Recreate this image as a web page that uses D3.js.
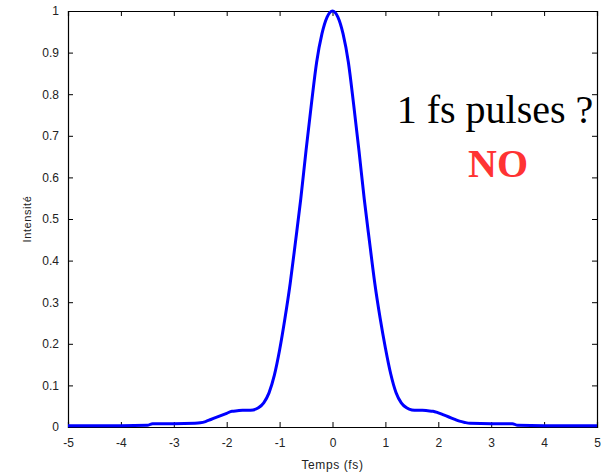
<!DOCTYPE html>
<html>
<head>
<meta charset="utf-8">
<script src="https://cdn.jsdelivr.net/npm/d3@7"></script>
<style>
  html, body { margin: 0; padding: 0; background: #fff; }
  svg { display: block; }
  .tick text { font-family: "Liberation Sans", Arial, sans-serif; font-size: 12px; fill: #222; }
</style>
</head>
<body>
<svg id="chart" width="609" height="472"></svg>
<script>
// Pulse intensity profile (time in fs, normalised intensity)
const times = [
  -5, -4, -3.5, -3.4, -3, -2.6, -2.5, -2.4, -2.3, -2.2, -2.1, -2.0,
  -1.9, -1.8, -1.7, -1.6, -1.5, -1.4, -1.3, -1.2, -1.1, -1.0,
  -0.9, -0.8, -0.7, -0.6, -0.5, -0.4, -0.3, -0.2, -0.1, 0,
  0.1, 0.2, 0.3, 0.4, 0.5, 0.6, 0.7, 0.8, 0.9, 1.0,
  1.1, 1.2, 1.3, 1.4, 1.5, 1.6, 1.7, 1.8, 1.9, 2.0,
  2.1, 2.2, 2.3, 2.4, 2.5, 2.6, 3, 3.4, 3.5, 4, 5
];
const intensity = [
  0.003, 0.003, 0.004, 0.008, 0.008, 0.009, 0.010, 0.013, 0.018, 0.023, 0.028, 0.033,
  0.038, 0.039, 0.040, 0.040, 0.041, 0.046, 0.058, 0.082, 0.124, 0.185,
  0.260, 0.345, 0.445, 0.548, 0.665, 0.775, 0.877, 0.945, 0.986, 1.000,
  0.986, 0.945, 0.877, 0.775, 0.665, 0.548, 0.445, 0.345, 0.262, 0.190,
  0.128, 0.083, 0.058, 0.046, 0.041, 0.040, 0.040, 0.039, 0.038, 0.034,
  0.029, 0.024, 0.019, 0.014, 0.011, 0.009, 0.008, 0.008, 0.004, 0.003, 0.003
];
const xTicks = [-5, -4, -3, -2, -1, 0, 1, 2, 3, 4, 5];
const yTicks = [0, 0.1, 0.2, 0.3, 0.4, 0.5, 0.6, 0.7, 0.8, 0.9, 1];

const svg = d3.select("#chart");
const margin = { left: 68, right: 12, top: 11, bottom: 45 };
const W = 609, H = 472;
const x = d3.scaleLinear().domain([-5, 5]).range([margin.left, W - margin.right]);
const y = d3.scaleLinear().domain([0, 1]).range([H - margin.bottom, margin.top]);

const tickLen = 5;
// plain hyphen for negative numbers
const fmtX = d => String(d);
const fmtY = d => String(d);

// Bottom and left axes with inward ticks
const gx = svg.append("g").attr("transform", `translate(0,${y(0)})`)
  .call(d3.axisBottom(x).tickValues(xTicks).tickSize(-tickLen).tickPadding(tickLen + 6).tickFormat(fmtX));
const gy = svg.append("g").attr("transform", `translate(${x(-5)},0)`)
  .call(d3.axisLeft(y).tickValues(yTicks).tickSize(-tickLen).tickPadding(tickLen + 4).tickFormat(fmtY));
// Top and right axes (box), ticks only
const gt = svg.append("g").attr("transform", `translate(0,${y(1)})`)
  .call(d3.axisTop(x).tickValues(xTicks).tickSize(-tickLen).tickFormat(""));
const gr = svg.append("g").attr("transform", `translate(${x(5)},0)`)
  .call(d3.axisRight(y).tickValues(yTicks).tickSize(-tickLen).tickFormat(""));

[gx, gy, gt, gr].forEach(g => {
  g.selectAll(".domain").attr("stroke", "#000").attr("stroke-width", 1.2);
  g.selectAll(".tick line").attr("stroke", "#000").attr("stroke-width", 1);
});

// Intensity curve
const pts = times.map((t, i) => [t, intensity[i]]);
svg.append("path")
  .datum(pts)
  .attr("fill", "none")
  .attr("stroke", "#0000ff")
  .attr("stroke-width", 3)
  .attr("stroke-linejoin", "round")
  .attr("d", d3.line().x(d => x(d[0])).y(d => y(d[1])).curve(d3.curveMonotoneX));

// Axis titles
svg.append("text")
  .attr("x", x(0)).attr("y", 469)
  .attr("text-anchor", "middle")
  .style("font-family", "'Liberation Sans', Arial, sans-serif")
  .style("font-size", "12px").style("letter-spacing", "0.6px").attr("fill", "#222")
  .text("Temps (fs)");
svg.append("text")
  .attr("transform", `translate(31,${y(0.5)}) rotate(-90)`)
  .attr("text-anchor", "middle")
  .style("font-family", "'Liberation Sans', Arial, sans-serif")
  .style("font-size", "11px").style("letter-spacing", "0.6px").attr("fill", "#222")
  .text("Intensité");

// Annotation
svg.append("text")
  .attr("x", 495).attr("y", 123)
  .attr("text-anchor", "middle")
  .style("font-family", "'Liberation Serif', 'Times New Roman', serif")
  .style("font-size", "40px").attr("fill", "#000")
  .text("1 fs pulses ?");
svg.append("text")
  .attr("x", 498).attr("y", 177)
  .attr("text-anchor", "middle")
  .style("font-family", "'Liberation Serif', 'Times New Roman', serif")
  .style("font-size", "40px").style("font-weight", "bold").attr("fill", "#ff3333")
  .text("NO");
</script>
</body>
</html>
